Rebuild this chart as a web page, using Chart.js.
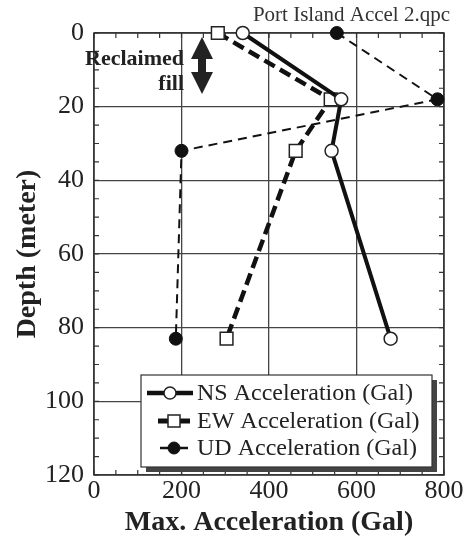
<!DOCTYPE html>
<html>
<head>
<meta charset="utf-8">
<script src="https://cdn.jsdelivr.net/npm/chart.js@4/dist/chart.umd.min.js"></script>
<style>
  html, body { margin: 0; padding: 0; background: #fff; }
  #wrap { width: 474px; height: 541px; }
</style>
</head>
<body>
<div id="wrap"><canvas id="chart"></canvas></div>
<script>
// depth of each sensor (m) and peak acceleration (Gal)
const depths = [0, 18, 32, 83];
const nsAccel = [340, 565, 543, 678];
const ewAccel = [283, 541, 461, 303];
const udAccel = [555, 785, 200, 187];
const seriesNames = ['NS Acceleration (Gal)', 'EW Acceleration (Gal)', 'UD Acceleration (Gal)'];
const xTicks = [0, 200, 400, 600, 800];
const yTicks = [0, 20, 40, 60, 80, 100, 120];

const serif = "'Liberation Serif', 'Times New Roman', serif";
const ink = '#222';

const toPoints = (vals) => vals.map((v, i) => ({ x: v, y: depths[i] }));

const chartData = {
  datasets: [
    {
      label: seriesNames[0],
      data: toPoints(nsAccel),
      showLine: true,
      clip: false,
      borderColor: '#111',
      borderWidth: 4,
      pointStyle: 'circle',
      pointRadius: 6.5,
      pointBackgroundColor: '#fff',
      pointBorderColor: '#222',
      pointBorderWidth: 1.5,
    },
    {
      label: seriesNames[1],
      data: toPoints(ewAccel),
      showLine: true,
      clip: false,
      borderColor: '#111',
      borderWidth: 4.5,
      borderDash: [12, 6],
      pointStyle: 'rect',
      pointRadius: 9,
      pointBackgroundColor: '#fff',
      pointBorderColor: '#222',
      pointBorderWidth: 1.5,
    },
    {
      label: seriesNames[2],
      data: toPoints(udAccel),
      showLine: true,
      clip: false,
      borderColor: '#111',
      borderWidth: 2,
      borderDash: [9, 6],
      pointStyle: 'circle',
      pointRadius: 6.5,
      pointBackgroundColor: '#111',
      pointBorderColor: '#111',
      pointBorderWidth: 1,
    },
  ],
};

// frame, inner minor ticks, annotation, title and boxed legend
const decor = {
  id: 'decor',
  beforeDatasetsDraw(chart) {
    const { ctx, chartArea: a, scales } = chart;
    const xs = scales.x, ys = scales.y;
    ctx.save();
    ctx.strokeStyle = '#333';
    ctx.lineWidth = 1.5;
    ctx.strokeRect(a.left, a.top, a.right - a.left, a.bottom - a.top);
    ctx.lineWidth = 1.2;
    ctx.beginPath();
    for (let v = 0; v <= 120; v += 5) {
      const py = ys.getPixelForValue(v);
      ctx.moveTo(a.left, py); ctx.lineTo(a.left + 5, py);
      ctx.moveTo(a.right, py); ctx.lineTo(a.right - 5, py);
    }
    for (let v = 0; v <= 800; v += 50) {
      const px = xs.getPixelForValue(v);
      ctx.moveTo(px, a.bottom); ctx.lineTo(px, a.bottom - 5);
      ctx.moveTo(px, a.top); ctx.lineTo(px, a.top + 5);
    }
    ctx.stroke();
    ctx.restore();
  },
  afterDraw(chart) {
    const { ctx } = chart;
    ctx.save();
    // title
    ctx.fillStyle = '#333';
    ctx.font = '21px ' + serif;
    ctx.textAlign = 'right';
    ctx.textBaseline = 'middle';
    ctx.fillText('Port Island Accel 2.qpc', 450, 15);

    // reclaimed fill note with double arrow
    ctx.fillStyle = ink;
    ctx.font = 'bold 22px ' + serif;
    ctx.fillText('Reclaimed', 184, 59);
    ctx.fillText('fill', 184, 84);
    const ax = 202, y1 = 37, y2 = 94;
    ctx.beginPath();
    ctx.moveTo(ax, y1);
    ctx.lineTo(ax + 11, y1 + 22);
    ctx.lineTo(ax + 4, y1 + 22);
    ctx.lineTo(ax + 4, y2 - 22);
    ctx.lineTo(ax + 11, y2 - 22);
    ctx.lineTo(ax, y2);
    ctx.lineTo(ax - 11, y2 - 22);
    ctx.lineTo(ax - 4, y2 - 22);
    ctx.lineTo(ax - 4, y1 + 22);
    ctx.lineTo(ax - 11, y1 + 22);
    ctx.closePath();
    ctx.fill();

    // legend box with shadow
    const L = 141, T = 375, R = 432, B = 467;
    ctx.fillStyle = '#444';
    ctx.fillRect(L + 5, T + 5, R - L, B - T);
    ctx.fillStyle = '#fff';
    ctx.fillRect(L, T, R - L, B - T);
    ctx.strokeStyle = '#333';
    ctx.lineWidth = 1.2;
    ctx.strokeRect(L, T, R - L, B - T);

    const rows = [393, 421, 448];
    const samples = [[147, 193], [158, 190], [160, 188]];
    chart.data.datasets.forEach((ds, i) => {
      const cy = rows[i];
      const [s0, s1] = samples[i];
      ctx.strokeStyle = ds.borderColor;
      ctx.lineWidth = ds.borderWidth + 0.5;
      ctx.setLineDash([]);
      ctx.beginPath();
      ctx.moveTo(s0, cy); ctx.lineTo(s1, cy);
      ctx.stroke();
      const mx = (s0 + s1) / 2;
      ctx.lineWidth = ds.pointBorderWidth;
      ctx.fillStyle = ds.pointBackgroundColor;
      ctx.strokeStyle = ds.pointBorderColor;
      ctx.beginPath();
      if (ds.pointStyle === 'rect') ctx.rect(mx - 6, cy - 6, 12, 12);
      else ctx.arc(mx, cy, 6, 0, Math.PI * 2);
      ctx.fill(); ctx.stroke();
      ctx.fillStyle = ink;
      ctx.font = '24px ' + serif;
      ctx.textAlign = 'left';
      ctx.fillText(ds.label, 197, cy + 1);
    });
    ctx.restore();
  },
};

const chartConfig = {
  type: 'scatter',
  data: chartData,
  options: {
    responsive: true,
    maintainAspectRatio: false,
    animation: false,
    layout: { padding: { left: 0, right: 30, top: 33, bottom: 0 } },
    plugins: {
      legend: { display: false },
      tooltip: { enabled: false },
    },
    scales: {
      x: {
        type: 'linear',
        min: 0,
        max: 800,
        afterBuildTicks: (s) => { s.ticks = xTicks.map((v) => ({ value: v })); },
        afterFit: (s) => { s.height = 66; },
        grid: { color: '#444', lineWidth: 1.3, drawTicks: false },
        border: { display: false },
        ticks: { color: ink, font: { family: serif, size: 26 }, padding: 1, maxRotation: 0 },
        title: {
          display: true,
          text: 'Max. Acceleration (Gal)',
          color: ink,
          font: { family: serif, size: 28, weight: 'bold' },
          padding: { top: 0, bottom: 1 },
        },
      },
      y: {
        type: 'linear',
        reverse: true,
        min: 0,
        max: 120,
        afterBuildTicks: (s) => { s.ticks = yTicks.map((v) => ({ value: v })); },
        afterFit: (s) => { s.width = 94; },
        grid: { color: '#444', lineWidth: 1.3, drawTicks: false },
        border: { display: false },
        ticks: { color: ink, font: { family: serif, size: 26 }, padding: 10 },
        title: {
          display: true,
          text: 'Depth (meter)',
          color: ink,
          font: { family: serif, size: 28, weight: 'bold' },
          padding: { top: 11, bottom: 0 },
        },
      },
    },
  },
  plugins: [decor],
};

const chart = new Chart(document.getElementById('chart'), chartConfig);
</script>
</body>
</html>
